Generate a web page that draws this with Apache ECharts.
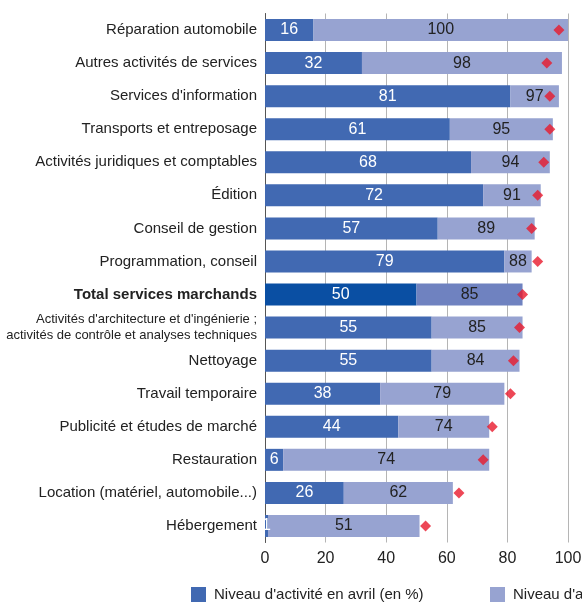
<!DOCTYPE html>
<html>
<head>
<meta charset="utf-8">
<script src="https://cdn.jsdelivr.net/npm/echarts@6/dist/echarts.min.js"></script>
<style>
  html, body { margin: 0; padding: 0; background: #fff; }
  #chart { width: 582px; height: 604px; }
</style>
</head>
<body>
<div id="chart"></div>
<script>
// secteurs, de haut en bas
var categories = [
  'Réparation automobile',
  'Autres activités de services',
  "Services d'information",
  'Transports et entreposage',
  'Activités juridiques et comptables',
  'Édition',
  'Conseil de gestion',
  'Programmation, conseil',
  'Total services marchands',
  "Activités d'architecture et d'ingénierie ;\nactivités de contrôle et analyses techniques",
  'Nettoyage',
  'Travail temporaire',
  'Publicité et études de marché',
  'Restauration',
  'Location (matériel, automobile...)',
  'Hébergement'
]
var niveauAvril = [16, 32, 81, 61, 68, 72, 57, 79, 50, 55, 55, 38, 44, 6, 26, 1]
var niveauMai = [100, 98, 97, 95, 94, 91, 89, 88, 85, 85, 84, 79, 74, 74, 62, 51]
var niveauJuin = [97, 93, 94, 94, 92, 90, 88, 90, 85, 84, 82, 81, 75, 72, 64, 53]
var xTicks = [0, 20, 40, 60, 80, 100]

var totalIndex = categories.indexOf('Total services marchands')
var nomAvril = "Niveau d'activité en avril (en %)"
var nomMai = "Niveau d'activité en mai (en %)"
var nomJuin = "Niveau d'activité attendu en juin (en %)"

var font = '"Liberation Sans", Arial, sans-serif'

var avrilData = niveauAvril.map(function(v, i) {
  if (i === totalIndex) return { value: v, itemStyle: { color: '#0a4fa3' } }
  return v
})
// partie claire empilée = écart entre mai et avril
var maiData = niveauMai.map(function(v, i) {
  var d = { value: v - niveauAvril[i], real: v }
  if (i === totalIndex) d.itemStyle = { color: '#6f82c0' }
  return d
})

var legendText = { fontSize: 15, color: '#222', fontFamily: font, padding: [0, 0, 0, 3] }

var chart = echarts.init(document.getElementById('chart'))
chart.setOption({
  animation: false,
  textStyle: { fontFamily: font },
  grid: { left: 265, right: 14, top: 13.5, bottom: 61.5, outerBoundsMode: 'none', containLabel: false },
  legend: [
    {
      data: [nomAvril],
      left: 191, top: 587, padding: 0,
      itemWidth: 15, itemHeight: 15, itemGap: 8,
      icon: 'rect',
      textStyle: legendText
    },
    {
      data: [nomMai],
      left: 490, top: 587, padding: 0,
      itemWidth: 15, itemHeight: 15, itemGap: 8,
      icon: 'rect',
      textStyle: legendText
    }
  ],
  xAxis: {
    type: 'value',
    min: xTicks[0],
    max: xTicks[xTicks.length - 1],
    interval: 20,
    axisLine: { show: false },
    axisTick: { show: false },
    axisLabel: { fontSize: 16, color: '#222', margin: 8, fontFamily: font },
    splitLine: { lineStyle: { color: '#b5b5b5', width: 1 } }
  },
  yAxis: {
    type: 'category',
    data: categories,
    inverse: true,
    axisLine: { lineStyle: { color: '#555', width: 1 } },
    axisTick: { show: false },
    axisLabel: {
      fontSize: 15,
      color: '#222',
      margin: 8,
      fontFamily: font,
      formatter: function(v) {
        if (v === categories[totalIndex]) return '{b|' + v + '}'
        if (v.indexOf('\n') >= 0) return v.split('\n').map(function(s) { return '{s|' + s + '}' }).join('\n')
        return v
      },
      rich: {
        b: { fontWeight: 'bold', fontSize: 15, color: '#222', fontFamily: font },
        s: { fontSize: 13, lineHeight: 16, color: '#222', fontFamily: font }
      }
    }
  },
  series: [
    {
      name: nomAvril,
      type: 'bar',
      stack: 'niveau',
      barWidth: 22,
      itemStyle: { color: '#4169b2' },
      label: {
        show: true,
        position: 'inside',
        color: '#fff',
        fontSize: 16,
        fontFamily: font
      },
      data: avrilData
    },
    {
      name: nomMai,
      type: 'bar',
      stack: 'niveau',
      barWidth: 22,
      itemStyle: { color: '#97a3d1' },
      label: {
        show: true,
        position: 'inside',
        color: '#222',
        fontSize: 16,
        fontFamily: font,
        formatter: function(p) { return p.data.real }
      },
      data: maiData
    },
    {
      name: nomJuin,
      type: 'scatter',
      symbol: 'diamond',
      symbolSize: 11,
      itemStyle: { color: '#e8192c' },
      z: 5,
      data: niveauJuin
    }
  ]
})
</script>
</body>
</html>
